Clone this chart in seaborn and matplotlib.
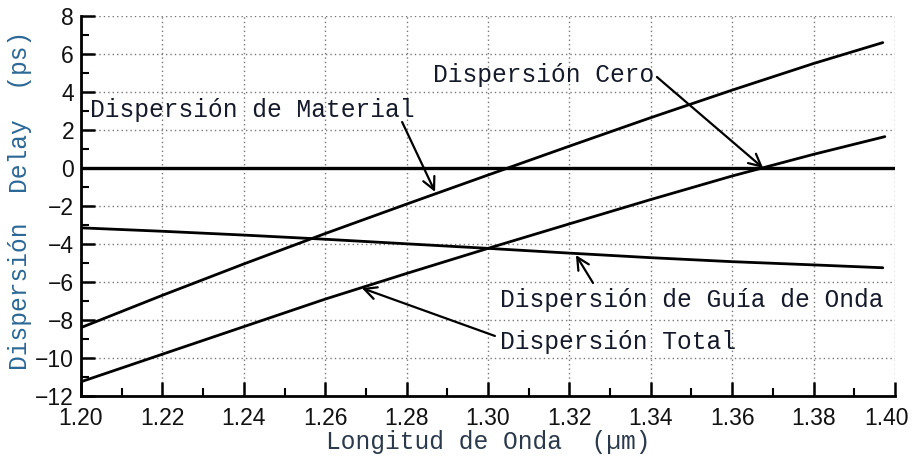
import numpy as np
import pandas as pd
import matplotlib
matplotlib.use("Agg")
import matplotlib.pyplot as plt
import matplotlib.transforms as mtransforms
import seaborn as sns
from matplotlib.ticker import MultipleLocator, FixedLocator

# ---- data ----
wl_material = [1.20, 1.22, 1.24, 1.26, 1.28, 1.30, 1.32, 1.34, 1.36, 1.38, 1.397]
d_material = [-8.4, -6.7, -5.05, -3.45, -1.9, -0.37, 1.15, 2.65, 4.1, 5.5, 6.6]

wl_guia = [1.20, 1.22, 1.24, 1.26, 1.28, 1.30, 1.32, 1.34, 1.36, 1.38, 1.397]
d_guia = [-3.15, -3.33, -3.53, -3.75, -3.99, -4.23, -4.48, -4.72, -4.93, -5.1, -5.25]

wl_total = [1.20, 1.22, 1.24, 1.26, 1.28, 1.30, 1.32, 1.34, 1.36, 1.38, 1.3975]
d_total = [-11.25, -9.8, -8.35, -6.9, -5.55, -4.23, -2.94, -1.66, -0.42, 0.72, 1.65]

x_ticks = [1.20, 1.22, 1.24, 1.26, 1.28, 1.30, 1.32, 1.34, 1.36, 1.38, 1.40]
x_ticklabels = ["1.20", "1.22", "1.24", "1.26", "1.28", "1.30", "1.32", "1.34", "1.36", "1.38", "1.40"]
y_ticks = [-12, -10, -8, -6, -4, -2, 0, 2, 4, 6, 8]
y_ticklabels = ["−12", "−10", "−8", "−6", "−4", "−2", "0", "2", "4", "6", "8"]

series_names = ["Dispersión de Material", "Dispersión de Guía de Onda", "Dispersión Total"]

df = pd.concat([
    pd.DataFrame({"wl": wl_material, "d": d_material, "serie": series_names[0]}),
    pd.DataFrame({"wl": wl_guia, "d": d_guia, "serie": series_names[1]}),
    pd.DataFrame({"wl": wl_total, "d": d_total, "serie": series_names[2]}),
])

sns.set_theme(style="white")
plt.rcParams["font.family"] = ["Liberation Sans Narrow", "Liberation Sans", "DejaVu Sans"]

fig = plt.figure(figsize=(9.13, 4.61), dpi=100)
ax = fig.add_axes([81 / 913, 1 - 396 / 461, (895 - 81) / 913, (396 - 16) / 461])

sns.lineplot(data=df, x="wl", y="d", hue="serie", palette=["black"] * 3,
             linewidth=2.0, legend=False, ax=ax, sort=False)
ax.axhline(0, color="black", linewidth=2.4, zorder=3)

ax.set_xlim(1.20, 1.40)
ax.set_ylim(-12, 8)

ax.xaxis.set_major_locator(FixedLocator(x_ticks))
ax.set_xticklabels(x_ticklabels)
ax.yaxis.set_major_locator(FixedLocator(y_ticks))
ax.set_yticklabels(y_ticklabels)
ax.xaxis.set_minor_locator(MultipleLocator(0.01))
ax.yaxis.set_minor_locator(MultipleLocator(1))

ax.tick_params(axis="both", which="major", direction="in", length=10, width=1.8,
               color="black", labelsize=16.5, labelcolor="#111111")
ax.tick_params(axis="x", which="major", pad=8)
ax.tick_params(axis="y", which="major", pad=5)
ax.tick_params(axis="both", which="minor", direction="in", length=6, width=1.5, color="black")
ax.tick_params(which="both", bottom=True, left=True, top=False, right=False)

# nudge the last x tick label inward so it stays inside the picture
last_lbl = ax.xaxis.get_major_ticks()[-1].label1
last_lbl.set_transform(last_lbl.get_transform() +
                       mtransforms.ScaledTranslation(-8 / 100, 0, fig.dpi_scale_trans))

ax.grid(True, which="major", color="#777777", linestyle=(0, (1, 2.2)), linewidth=1.0)
ax.set_axisbelow(True)

for s in ["top", "right"]:
    ax.spines[s].set_visible(False)
for s in ["left", "bottom"]:
    ax.spines[s].set_color("black")
    ax.spines[s].set_linewidth(2.0)

mono = ["Liberation Mono", "DejaVu Sans Mono"]
ax.set_xlabel("Longitud de Onda  (µm)", family=mono, fontsize=17.7, color="#2a3a4c",
              va="center")
ax.set_ylabel("Dispersión  Delay  (ps)", family=mono, fontsize=17.7, color="#2b6896",
              va="center")
ax.xaxis.set_label_coords(0.5, -(442 - 396) / 380)
ax.yaxis.set_label_coords(-(81 - 20) / 814, (396 - 200) / 380)

txt_kw = dict(family=mono, fontsize=17.7, color="#141a2a", va="center", ha="left", zorder=5)
ax.text(1.2022, 3.05, "Dispersión de Material", **txt_kw)
ax.text(1.2865, 4.9, "Dispersión Cero", **txt_kw)
ax.text(1.3030, -6.95, "Dispersión de Guía de Onda", **txt_kw)
ax.text(1.3030, -9.16, "Dispersión Total", **txt_kw)

arr = dict(arrowstyle="->", color="black", lw=1.6, mutation_scale=22, shrinkA=0, shrinkB=0)
ax.annotate("", xy=(1.2870, -1.26), xytext=(1.2789, 2.42), arrowprops=arr)
ax.annotate("", xy=(1.3676, 0.0), xytext=(1.3415, 4.79), arrowprops=arr)
ax.annotate("", xy=(1.3216, -4.58), xytext=(1.3258, -6.05), arrowprops=arr)
ax.annotate("", xy=(1.2690, -6.32), xytext=(1.3017, -8.84), arrowprops=arr)

fig.savefig("out.png", dpi=100)
